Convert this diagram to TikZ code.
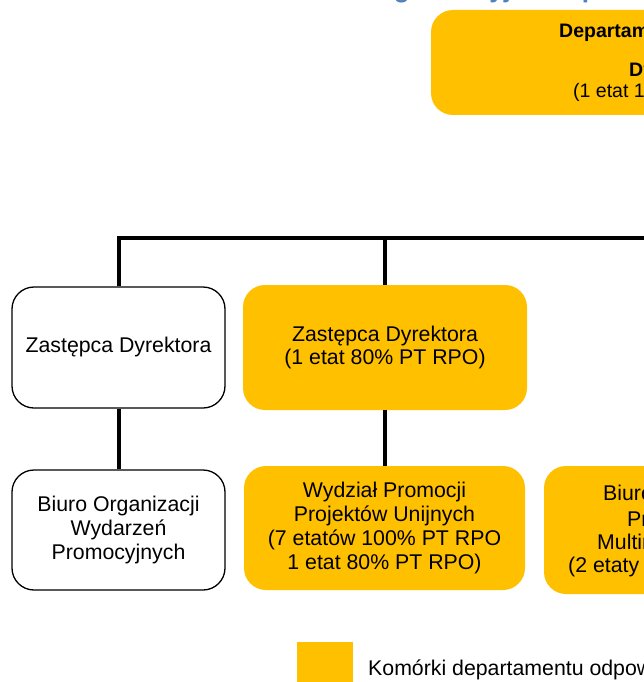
\documentclass[tikz,border=0pt]{standalone}
\usepackage{fontspec}
\setmainfont{Liberation Sans}
\definecolor{orgyellow}{RGB}{255,192,0}
\definecolor{titleblue}{RGB}{79,129,189}
\tikzset{
  box/.style={rectangle, rounded corners=22pt, align=center, inner sep=0pt,
              font=\fontsize{21.3}{23.8}\selectfont},
  whitebox/.style={box, draw=black, line width=1.3pt, fill=white},
  yellowbox/.style={box, fill=orgyellow},
  conn/.style={line width=4pt, line join=miter},
  txt/.style={anchor=base west, inner sep=0pt, font=\fontsize{21.3}{23.8}\selectfont},
  dirtxt/.style={anchor=base west, inner sep=0pt, font=\fontsize{19.5}{22}\selectfont},
}
\begin{document}
\begin{tikzpicture}[x=1pt,y=-1pt]
\useasboundingbox (0,0) rectangle (644,682);
\clip (0,0) rectangle (644,682);

% title (mostly cut off)
\node[anchor=base west, inner sep=0pt, text=titleblue,
      font=\bfseries\fontsize{26}{30}\selectfont] (title) at (245,-2.5)
  {Struktura organizacyjna Departamentu Promocji};

% director box
\node[yellowbox, minimum width=478pt, minimum height=105pt] (dir) at (670,62.5) {};
\node[dirtxt, font=\bfseries\fontsize{19.5}{22}\selectfont] (dirA) at (559,38) {Departament Promocji};
\node[dirtxt, font=\bfseries\fontsize{19.5}{22}\selectfont] (dirB) at (629,77) {Dyrektor};
\node[dirtxt] (dirC) at (573,98) {(1 etat 100\% PT RPO)};

% second level
\node[whitebox, minimum width=213pt, minimum height=121pt] (z1) at (118.5,347.5) {Zastępca Dyrektora};
\node[yellowbox, minimum width=284pt, minimum height=125pt] (z2) at (385,347.5)
  {Zastępca Dyrektora\\(1 etat 80\% PT RPO)};

% third level
\node[whitebox, minimum width=213pt, minimum height=120pt] (b1) at (118.5,530)
  {Biuro Organizacji\\Wydarzeń\\Promocyjnych};
\node[yellowbox, minimum width=281pt, minimum height=124pt] (w1) at (384.5,528)
  {Wydział Promocji\\Projektów Unijnych\\(7 etatów 100\% PT RPO\\1 etat 80\% PT RPO)};
\node[yellowbox, minimum width=281pt, minimum height=128pt] (b2) at (684.5,530) {};
\node[txt] (b2a) at (603,500) {Biuro Produkcji};
\node[txt] (b2b) at (627,526) {Promocyjnych};
\node[txt] (b2c) at (597,549) {Multimedialnej};
\node[txt] (b2d) at (568,572) {(2 etaty 100\% PT RPO)};

% connectors
\coordinate (busR) at (900,238);
\draw[conn] (z1.north) |- (busR);
\draw[conn] (z2.north) -- (z2.north |- busR);
\draw[conn] (dir.south) -- (dir.south |- busR);
\draw[conn] (z1.south) -- (b1.north);
\draw[conn] (z2.south) -- (z2.south |- w1.north);

% legend
\node[fill=orgyellow, inner sep=0pt, minimum width=56pt, minimum height=50pt] (leg) at (325,667) {};
\node[txt] (legtxt) at (368,675) {Komórki departamentu odpowiedzialne za realizację PT RPO};
\end{tikzpicture}
\end{document}
